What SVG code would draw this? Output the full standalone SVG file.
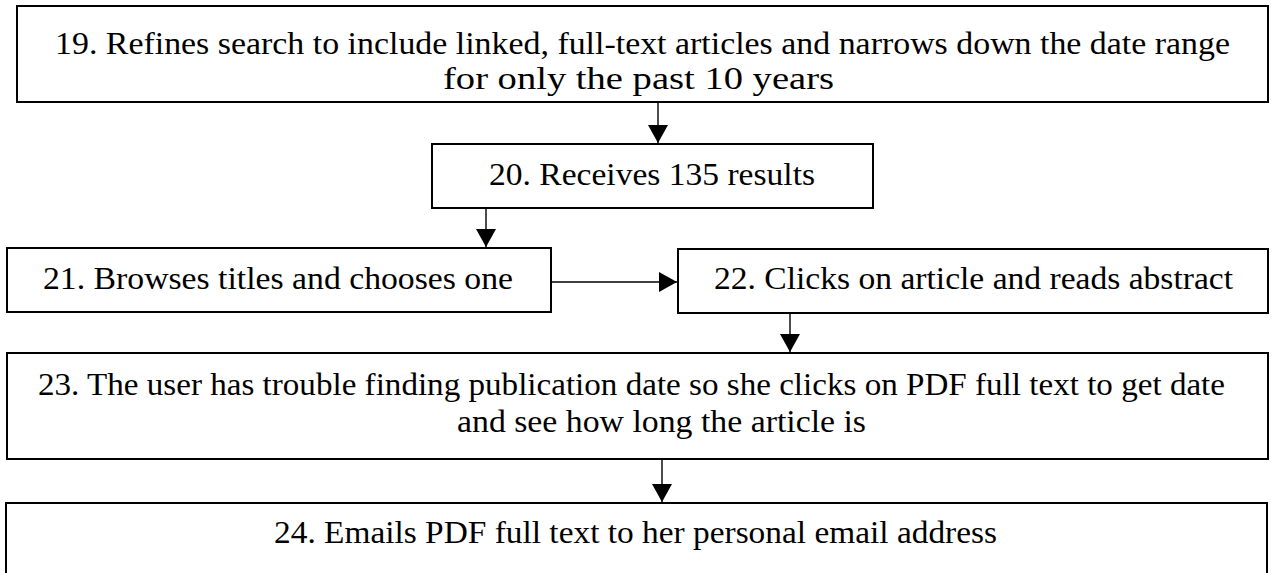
<svg xmlns="http://www.w3.org/2000/svg" width="1272" height="573" viewBox="0 0 1272 573">
  <style>
    .box { fill: #ffffff; stroke: #000000; stroke-width: 2; }
    .lbl { font-family: "Liberation Serif", "Times New Roman", serif; font-size: 32px; fill: #000000; }
    .conn { stroke: #000000; stroke-width: 1.4; fill: none; marker-end: url(#arrow); }
  </style>
  <defs>
    <marker id="arrow" viewBox="0 0 18 20" refX="18" refY="10" markerWidth="18" markerHeight="20" markerUnits="userSpaceOnUse" orient="auto">
      <path d="M0,0 L18,10 L0,20 Z" fill="#000000"/>
    </marker>
  </defs>
  <rect width="1272" height="573" fill="#ffffff"/>

  <g id="node19">
    <rect class="box" x="17" y="6" width="1251" height="96"/>
    <text class="lbl" x="55" y="54" textLength="1175" lengthAdjust="spacingAndGlyphs">19. Refines search to include linked, full-text articles and narrows down the date range</text>
    <text class="lbl" x="443" y="89" textLength="391" lengthAdjust="spacingAndGlyphs">for only the past 10 years</text>
  </g>

  <g id="node20">
    <rect class="box" x="432" y="144" width="441" height="64"/>
    <text class="lbl" x="489" y="185" textLength="326" lengthAdjust="spacingAndGlyphs">20. Receives 135 results</text>
  </g>

  <g id="node21">
    <rect class="box" x="7" y="248" width="544" height="64"/>
    <text class="lbl" x="43" y="289" textLength="470" lengthAdjust="spacingAndGlyphs">21. Browses titles and chooses one</text>
  </g>

  <g id="node22">
    <rect class="box" x="678" y="249" width="590" height="64"/>
    <text class="lbl" x="714" y="289" textLength="519" lengthAdjust="spacingAndGlyphs">22. Clicks on article and reads abstract</text>
  </g>

  <g id="node23">
    <rect class="box" x="7" y="353" width="1261" height="106"/>
    <text class="lbl" x="38" y="395" textLength="1187" lengthAdjust="spacingAndGlyphs">23. The user has trouble finding publication date so she clicks on PDF full text to get date</text>
    <text class="lbl" x="457" y="432" textLength="409" lengthAdjust="spacingAndGlyphs">and see how long the article is</text>
  </g>

  <g id="node24">
    <rect class="box" x="6" y="503" width="1261" height="100"/>
    <text class="lbl" x="274" y="543" textLength="723" lengthAdjust="spacingAndGlyphs">24. Emails PDF full text to her personal email address</text>
  </g>

  <g id="connectors">
    <line class="conn" x1="658" y1="103" x2="658" y2="143"/>
    <line class="conn" x1="486" y1="209" x2="486" y2="247"/>
    <line class="conn" x1="552" y1="282" x2="677" y2="282"/>
    <line class="conn" x1="790" y1="314" x2="790" y2="352"/>
    <line class="conn" x1="662" y1="460" x2="662" y2="502"/>
  </g>
</svg>
